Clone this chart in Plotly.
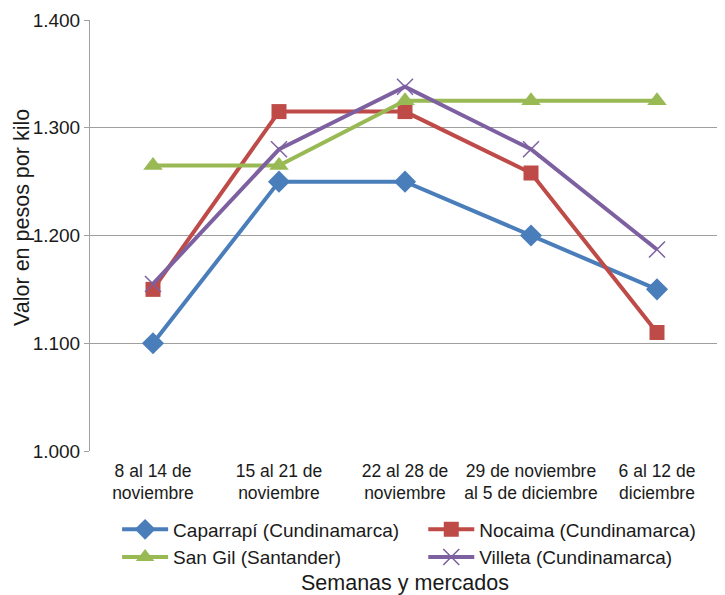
import plotly.graph_objects as go

categories = ["8 al 14 de<br>noviembre", "15 al 21 de<br>noviembre", "22 al 28 de<br>noviembre",
              "29 de noviembre<br>al 5 de diciembre", "6 al 12 de<br>diciembre"]
caparrapi = [1100, 1250, 1250, 1200, 1150]
nocaima = [1150, 1315, 1315, 1258, 1110]
san_gil = [1265, 1265, 1325, 1325, 1325]
villeta = [1155, 1280, 1338, 1280, 1187]
y_ticks = [1000, 1100, 1200, 1300, 1400]
y_ticktext = ["1.000", "1.100", "1.200", "1.300", "1.400"]

FONT = "Liberation Sans, Arial, sans-serif"
series = [
    ("Caparrapí (Cundinamarca)", caparrapi, "#4A7EBB", dict(symbol="diamond", size=17), "legend"),
    ("Nocaima (Cundinamarca)", nocaima, "#BE4B48", dict(symbol="square", size=15), "legend2"),
    ("San Gil (Santander)", san_gil, "#98B954", dict(symbol="triangle-up", size=17), "legend"),
    ("Villeta (Cundinamarca)", villeta, "#7D60A0", dict(symbol="x-thin", size=16, line=dict(width=1.5, color="#7D60A0")), "legend2"),
]

fig = go.Figure()
for name, vals, color, marker, leg in series:
    m = dict(color=color, **marker)
    fig.add_trace(go.Scatter(x=categories, y=vals, name=name, mode="lines+markers",
                             line=dict(color=color, width=4), marker=m, legend=leg))

leg_common = dict(orientation="v", y=-0.138, xanchor="left", yanchor="top",
                  font=dict(size=19), itemwidth=46, tracegroupgap=0,
                  bgcolor="rgba(0,0,0,0)", borderwidth=0)

fig.update_layout(
    width=725, height=595,
    margin=dict(l=82, r=13, t=12, b=152, autoexpand=False),
    paper_bgcolor="white", plot_bgcolor="white",
    font=dict(family=FONT, size=18, color="#1a1a1a"),
    showlegend=True,
    legend=dict(x=0.043, **leg_common),
    legend2=dict(x=0.529, **leg_common),
    xaxis=dict(type="category", showgrid=False, showline=False, ticks="",
               ticklabelstandoff=7, tickfont=dict(size=17.5), range=[-0.5, 4.5]),
    yaxis=dict(range=[1000, 1400], tickvals=y_ticks, ticktext=y_ticktext,
               showgrid=True, gridcolor="#A0A0A0", gridwidth=1,
               showline=True, linecolor="#A0A0A0", linewidth=1,
               ticks="outside", ticklen=5, tickcolor="#A0A0A0",
               tickfont=dict(size=19), zeroline=False),
    annotations=[
        dict(text="Valor en pesos por kilo", textangle=-90, x=-0.108, xref="paper", y=0.543, yref="paper",
             showarrow=False, font=dict(size=21.5), xanchor="center", yanchor="middle"),
        dict(text="Semanas y mercados", x=0.5, xref="paper", y=-0.306, yref="paper",
             showarrow=False, font=dict(size=21.5), xanchor="center", yanchor="middle"),
    ],
)
fig.write_html("out.html")
